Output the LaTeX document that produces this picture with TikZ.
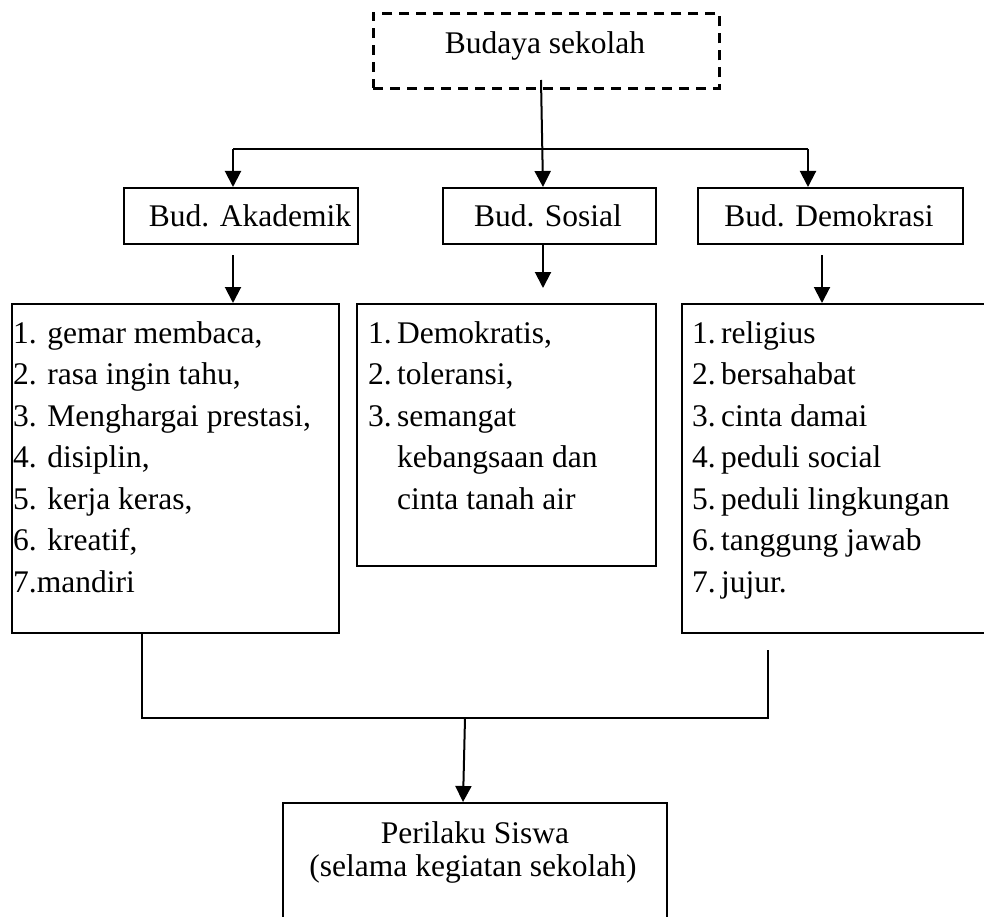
\documentclass[tikz,border=0pt]{standalone}
\usepackage{fontspec}
\setmainfont{Liberation Serif}
\usetikzlibrary{arrows.meta}
\begin{document}
\begin{tikzpicture}[x=1pt,y=-1pt,
  box/.style={draw, line width=2pt, inner sep=0pt, anchor=north west},
  txt/.style={inner sep=0pt, anchor=base west, font=\fontsize{31.5}{38}\selectfont},
  ctxt/.style={inner sep=0pt, anchor=base, font=\fontsize{31.5}{38}\selectfont},
  arr/.style={line width=2pt, -{Triangle[length=16pt,width=16pt]}},
  ln/.style={line width=2pt}]
\useasboundingbox (0,0) rectangle (984,917);
% top dashed box
\node[box, dash pattern=on 10pt off 7pt, line width=2.8pt, minimum width=346pt, minimum height=75pt] (top) at (372,12) {};
\node[ctxt] (toptxt) at (545,54) {Budaya sekolah};
% header boxes
\node[box, minimum width=234pt, minimum height=56pt] (ak) at (123,187) {};
\node[ctxt] (aktxt) at (250,227) {Bud. Akademik};
\node[box, minimum width=213pt, minimum height=56pt] (so) at (442,187) {};
\node[ctxt] (sotxt) at (548,227) {Bud. Sosial};
\node[box, minimum width=265pt, minimum height=56pt] (de) at (697,187) {};
\node[ctxt] (detxt) at (829,227) {Bud. Demokrasi};
% list boxes
\node[box, minimum width=327pt, minimum height=329pt] (akl) at (11,303) {};
\node[box, minimum width=299pt, minimum height=262pt] (sol) at (356,303) {};
\node[box, minimum width=330pt, minimum height=329pt] (del) at (681,303) {};
% list texts
\foreach \t [count=\i] in {1. gemar membaca{,}, 2. rasa ingin tahu{,}, 3. Menghargai prestasi{,}, 4. disiplin{,}, 5. kerja keras{,}, 6. kreatif{,}, 7.mandiri}
  \node[txt] (akt\i) at (13,{343+41.5*(\i-1)}) {\t};
\foreach \t [count=\i] in {Demokratis{,}, toleransi{,}, semangat}
  {\node[txt] (son\i) at (368,{343+41.5*(\i-1)}) {\i.};
   \node[txt] (sot\i) at (397,{343+41.5*(\i-1)}) {\t};}
\node[txt] (sot4) at (397,{343+41.5*3}) {kebangsaan dan};
\node[txt] (sot5) at (397,{343+41.5*4}) {cinta tanah air};
\foreach \t [count=\i] in {religius, bersahabat, cinta damai, peduli social, peduli lingkungan, tanggung jawab, jujur.}
  {\node[txt] (den\i) at (692,{343+41.5*(\i-1)}) {\i.};
   \node[txt] (det\i) at (721,{343+41.5*(\i-1)}) {\t};}
% bottom box
\node[box, minimum width=384pt, minimum height=140pt] (pe) at (282,802) {};
\node[ctxt] (pet1) at (475,843) {Perilaku Siswa};
\node[ctxt] (pet2) at (473,876) {(selama kegiatan sekolah)};
% connectors top
\coordinate (t0) at (541,80);
\coordinate (t1) at (543,187);
\coordinate (hl) at (233,149);
\coordinate (hr) at (808,149);
\draw[arr] (t0) -- (t1);
\draw[ln] (hl) -- (hr);
\draw[arr] (hl) -- (hl |- ak.north);
\draw[arr] (hr) -- (hr |- de.north);
% connectors middle
\coordinate (a0) at (233,255);
\draw[arr] (a0) -- (a0 |- akl.north);
\coordinate (s0) at (543,243);
\coordinate (s1) at (543,288);
\draw[arr] (s0) -- (s1);
\coordinate (d0) at (822,255);
\draw[arr] (d0) -- (d0 |- del.north);
% bottom connectors
\coordinate (bl) at (142,718);
\coordinate (br) at (768,718);
\coordinate (br0) at (768,650);
\draw[ln] (bl |- akl.south) -- (bl) -- (br) -- (br0);
\coordinate (m0) at (465,718);
\coordinate (m1) at (463,802);
\draw[arr] (m0) -- (m1);
\end{tikzpicture}
\end{document}
